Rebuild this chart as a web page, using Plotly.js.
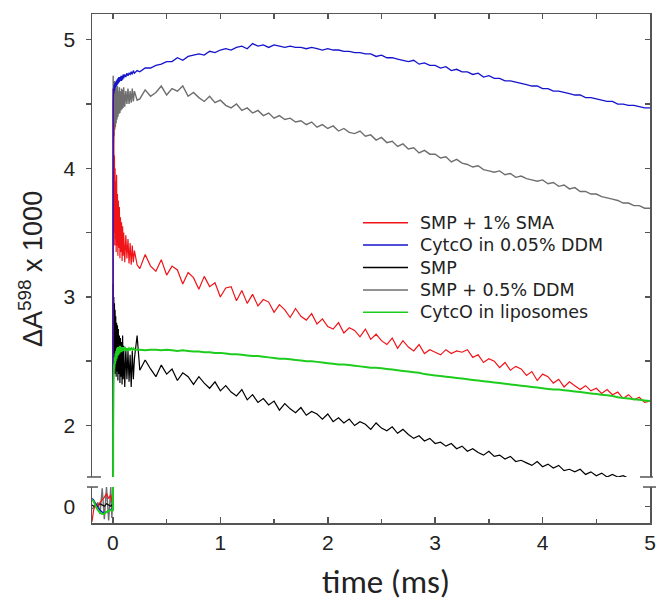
<!DOCTYPE html>
<html><head><meta charset="utf-8">
<script src="https://cdn.plot.ly/plotly-3.0.1.min.js"></script>
<style>html,body{margin:0;padding:0;background:#fff;} #chart{width:658px;height:603px;}</style>
</head><body><div id="chart"></div>
<script>
// time axis (ms)
const time = [
-0.195,-0.18,-0.16,-0.14,-0.12,-0.1,-0.08,-0.06,-0.04,-0.02,-0.01,0,
0.002,0.005,0.008,0.011,0.014,0.017,0.02,0.023,0.026,0.03,
0.034,0.038,0.042,0.046,0.05,0.055,0.06,0.065,0.07,0.075,
0.08,0.085,0.09,0.095,0.1,0.11,0.12,0.13,0.14,0.15,
0.16,0.17,0.18,0.19,0.2,0.225,
0.25,0.3,0.35,0.4,0.45,0.5,0.55,0.6,0.65,0.7,
0.75,0.8,0.85,0.9,0.95,1,1.05,1.1,1.15,1.2,
1.25,1.3,1.35,1.4,1.45,1.5,1.55,1.6,1.65,1.7,
1.75,1.8,1.85,1.9,1.95,2,2.05,2.1,2.15,2.2,
2.25,2.3,2.35,2.4,2.45,2.5,2.55,2.6,2.65,2.7,
2.75,2.8,2.85,2.9,2.95,3,3.05,3.1,3.15,3.2,
3.25,3.3,3.35,3.4,3.45,3.5,3.55,3.6,3.65,3.7,
3.75,3.8,3.85,3.9,3.95,4,4.05,4.1,4.15,4.2,
4.25,4.3,4.35,4.4,4.45,4.5,4.55,4.6,4.65,4.7,
4.75,4.8,4.85,4.9,4.95,5];

// SMP + 1% SMA (red)
const smpSma = [
-0.12,-0.03,0.02,0.0,0.03,0.05,0.07,0.10,0.06,0.09,0.04,0.03,
4.62,3.70,4.35,3.50,4.10,3.40,4.00,3.45,3.90,3.35,
3.95,3.40,3.80,3.32,3.75,3.38,3.70,3.30,3.62,3.35,
3.58,3.28,3.55,3.32,3.50,3.27,3.48,3.30,3.45,3.26,
3.42,3.25,3.40,3.27,3.36,3.25,
3.22,3.33,3.24,3.20,3.29,3.17,3.24,3.21,3.10,3.19,
3.15,3.06,3.16,3.08,3.11,3.00,3.07,3.08,2.97,3.05,
2.95,3.02,2.93,2.98,2.96,2.88,2.94,2.90,2.84,2.91,
2.85,2.82,2.87,2.79,2.83,2.77,2.75,2.80,2.72,2.76,
2.74,2.69,2.75,2.67,2.71,2.66,2.63,2.68,2.60,2.66,
2.61,2.58,2.63,2.56,2.59,2.57,2.55,2.59,2.56,2.58,
2.57,2.59,2.53,2.55,2.49,2.52,2.50,2.45,2.49,2.43,
2.46,2.44,2.39,2.42,2.35,2.40,2.38,2.33,2.36,2.30,
2.34,2.31,2.28,2.31,2.27,2.29,2.25,2.28,2.24,2.26,
2.21,2.24,2.20,2.22,2.18,2.19];

// CytcO in 0.05% DDM (blue)
const cytcoDdm = [
0.06,0.05,0.02,-0.01,-0.03,-0.045,-0.05,-0.045,-0.035,-0.025,-0.02,-0.02,
4.50,4.62,4.58,4.65,4.60,4.66,4.62,4.67,4.63,4.68,
4.64,4.69,4.65,4.70,4.66,4.71,4.67,4.71,4.68,4.72,
4.68,4.72,4.69,4.73,4.70,4.73,4.71,4.74,4.72,4.74,
4.73,4.75,4.73,4.76,4.74,4.76,
4.75,4.78,4.78,4.80,4.81,4.83,4.83,4.86,4.84,4.87,
4.88,4.89,4.88,4.91,4.90,4.92,4.93,4.92,4.94,4.95,
4.93,4.97,4.95,4.96,4.94,4.96,4.95,4.94,4.95,4.94,
4.94,4.93,4.94,4.93,4.92,4.93,4.92,4.92,4.91,4.91,
4.90,4.90,4.89,4.89,4.87,4.88,4.86,4.86,4.85,4.84,
4.83,4.84,4.81,4.82,4.80,4.80,4.78,4.79,4.76,4.77,
4.75,4.75,4.73,4.74,4.71,4.72,4.70,4.70,4.68,4.68,
4.67,4.66,4.65,4.64,4.64,4.62,4.62,4.60,4.60,4.59,
4.58,4.57,4.57,4.55,4.55,4.54,4.53,4.52,4.52,4.50,
4.50,4.49,4.49,4.48,4.47,4.47];

// SMP (black)
const smp = [
0.01,0.0,0.01,0.0,0.02,0.01,0.0,0.02,0.01,0.0,0.01,0.0,
3.10,2.45,3.00,2.50,2.95,2.40,2.90,2.45,2.85,2.38,
2.80,2.42,2.78,2.35,2.75,2.40,2.70,2.33,2.68,2.38,
2.65,2.32,2.70,2.36,2.62,2.30,2.60,2.36,2.58,2.34,
2.55,2.30,2.58,2.36,2.52,2.70,
2.43,2.51,2.44,2.38,2.47,2.40,2.44,2.35,2.41,2.38,
2.32,2.38,2.33,2.29,2.34,2.27,2.31,2.26,2.23,2.28,
2.20,2.24,2.18,2.21,2.16,2.19,2.12,2.17,2.13,2.10,
2.14,2.08,2.11,2.09,2.05,2.09,2.03,2.06,2.02,2.05,
2.00,2.03,2.01,1.97,2.02,1.98,1.96,1.99,1.94,1.97,
1.93,1.90,1.92,1.88,1.90,1.86,1.87,1.84,1.86,1.82,
1.84,1.80,1.82,1.79,1.77,1.80,1.76,1.77,1.74,1.76,
1.72,1.73,1.71,1.69,1.72,1.68,1.70,1.67,1.69,1.65,
1.66,1.64,1.66,1.62,1.64,1.61,1.63,1.60,1.62,1.60,
1.61,1.59,1.58,1.57,1.57,1.56];

// SMP + 0.5% DDM (grey)
const smpDdm = [
-0.02,-0.01,0.0,0.03,-0.06,0.14,-0.1,0.15,-0.11,0.15,-0.09,0.1,
4.72,4.20,4.65,4.25,4.68,4.30,4.62,4.32,4.66,4.35,
4.62,4.38,4.64,4.40,4.60,4.42,4.63,4.43,4.60,4.45,
4.62,4.46,4.61,4.47,4.63,4.48,4.60,4.50,4.62,4.50,
4.60,4.51,4.62,4.52,4.60,4.53,
4.54,4.61,4.56,4.59,4.64,4.57,4.62,4.60,4.64,4.56,
4.59,4.55,4.52,4.56,4.51,4.53,4.49,4.47,4.50,4.45,
4.47,4.43,4.45,4.41,4.43,4.39,4.41,4.38,4.39,4.36,
4.37,4.34,4.36,4.32,4.34,4.31,4.33,4.29,4.31,4.28,
4.27,4.29,4.25,4.26,4.22,4.24,4.20,4.21,4.17,4.19,
4.15,4.16,4.12,4.14,4.11,4.11,4.08,4.09,4.05,4.07,
4.04,4.03,4.01,4.02,3.99,3.98,3.97,3.98,3.95,3.96,
3.93,3.94,3.92,3.91,3.90,3.91,3.88,3.89,3.86,3.87,
3.84,3.85,3.82,3.82,3.80,3.80,3.78,3.77,3.76,3.75,
3.73,3.73,3.71,3.71,3.69,3.69];

// CytcO in liposomes (green)
const cytcoLipo = [
0.05,0.04,0.0,-0.03,-0.05,-0.06,-0.055,-0.045,-0.035,-0.03,-0.03,-0.03,
1.95,2.30,2.42,2.48,2.45,2.53,2.48,2.56,2.50,2.58,
2.52,2.60,2.54,2.61,2.55,2.61,2.56,2.62,2.57,2.61,
2.57,2.61,2.58,2.61,2.58,2.61,2.58,2.60,2.58,2.60,
2.59,2.60,2.59,2.60,2.59,2.59,
2.59,2.585,2.59,2.59,2.585,2.59,2.585,2.58,2.585,2.58,
2.575,2.575,2.57,2.57,2.565,2.565,2.56,2.555,2.555,2.55,
2.545,2.54,2.54,2.535,2.53,2.525,2.52,2.52,2.515,2.51,
2.505,2.50,2.50,2.495,2.49,2.485,2.48,2.475,2.475,2.47,
2.465,2.46,2.455,2.45,2.45,2.445,2.44,2.435,2.43,2.425,
2.42,2.415,2.41,2.40,2.395,2.39,2.385,2.38,2.375,2.37,
2.365,2.36,2.355,2.35,2.345,2.34,2.335,2.33,2.325,2.32,
2.315,2.31,2.305,2.30,2.295,2.29,2.285,2.28,2.28,2.275,
2.27,2.265,2.26,2.255,2.25,2.245,2.24,2.235,2.23,2.22,
2.215,2.21,2.205,2.20,2.195,2.19];

const seriesNames = ['SMP + 1% SMA','CytcO in 0.05% DDM','SMP','SMP + 0.5% DDM','CytcO in liposomes'];
const seriesValues = [smpSma, cytcoDdm, smp, smpDdm, cytcoLipo];
const seriesColors = ['#f01418','#1414cc','#000000','#6e6e6e','#1ecc1e'];
const seriesWidths = [1.2, 1.3, 1.2, 1.4, 2.0];
const drawOrder = [3, 2, 0, 1, 4];

const xTickVals = [0,1,2,3,4,5];
const xMinorVals = [0.5,1.5,2.5,3.5,4.5];
const xTopVals = [0,0.5,1,1.5,2,2.5,3,3.5,4,4.5,5];
const yTickVals = [2,3,4,5];
const yMinorVals = [2.5,3.5,4.5];
const yRightVals = [2,2.5,3,3.5,4,4.5,5];
const yLowVals = [0];

const xRange = [-0.195, 5];
const yRange = [1.6, 5.2];
const yLowRange = [-0.13, 0.15];

// plot area in pixels (for paper-coordinate helpers)
const PL = 92, PR = 650, PT = 14, PB = 523;
const px2x = p => (p - PL) / (PR - PL);
const px2y = p => (PB - p) / (PB - PT);

const traces = [];
drawOrder.forEach(i => {
  const top = (i === 4);   // last series drawn on the right-hand overlay axes
  const base = {type:'scatter', mode:'lines', x:time, y:seriesValues[i], name:seriesNames[i],
    line:{color:seriesColors[i], width:seriesWidths[i], simplify:false}, hoverinfo:'skip', showlegend:false};
  traces.push(Object.assign({}, base, {xaxis:'x2', yaxis: top ? 'y3' : 'y'}));
  traces.push(Object.assign({}, base, {xaxis:'x', yaxis: top ? 'y4' : 'y2'}));
});

const axC = '#555555';
const tickFont = {family:'"Liberation Sans", Arial, sans-serif', size:21, color:'#222'};
const common = {showline:true, linecolor:axC, linewidth:1.5, tickcolor:axC, tickwidth:1.5,
  showgrid:false, zeroline:false, fixedrange:true};

// hand-made legend (rows + line samples)
const legendShapes = [], legendNotes = [];
seriesNames.forEach((nm, i) => {
  const yy = px2y(222.7 + 22.4 * i);
  legendShapes.push({type:'line', xref:'paper', yref:'paper', x0:px2x(363), x1:px2x(408), y0:yy, y1:yy,
    line:{color:seriesColors[i], width:1.5}});
  legendNotes.push({text:nm, xref:'paper', yref:'paper', x:px2x(418), y:yy, xanchor:'left', yanchor:'middle',
    showarrow:false, font:{family:'"DejaVu Sans", sans-serif', size:17.5, color:'#222'}});
});

const breakShapes = [
  {type:'line', xref:'paper', yref:'paper', x0:px2x(87), x1:px2x(101), y0:0.0904, y1:0.0904, line:{color:axC, width:1.5}},
  {type:'line', xref:'paper', yref:'paper', x0:px2x(87), x1:px2x(98), y0:0.0707, y1:0.0707, line:{color:axC, width:1.5}},
  {type:'line', xref:'paper', yref:'paper', x0:px2x(640), x1:px2x(653), y0:0.0904, y1:0.0904, line:{color:axC, width:1.5}},
  {type:'line', xref:'paper', yref:'paper', x0:px2x(643), x1:px2x(656), y0:0.0707, y1:0.0707, line:{color:axC, width:1.5}}
];

const layout = {
  width:658, height:603,
  margin:{l:92, r:8, t:14, b:80},
  paper_bgcolor:'#ffffff', plot_bgcolor:'rgba(0,0,0,0)',
  showlegend:false,
  xaxis:Object.assign({}, common, {domain:[0,1], range:xRange, anchor:'y2', side:'bottom',
    ticks:'inside', ticklen:6, tickmode:'array', tickvals:xTickVals, tickfont:tickFont,
    minor:{tickmode:'array', tickvals:xMinorVals, ticks:'inside', ticklen:4, tickwidth:1.5, tickcolor:axC}}),
  xaxis2:Object.assign({}, common, {domain:[0,1], range:xRange, anchor:'y', side:'top',
    ticks:'inside', ticklen:5, tickmode:'array', tickvals:xTopVals, showticklabels:false}),
  yaxis:Object.assign({}, common, {domain:[0.0904,1], range:yRange, anchor:'x2', side:'left',
    ticks:'outside', ticklen:5, tickmode:'array', tickvals:yTickVals, tickfont:tickFont, ticklabelstandoff:6,
    minor:{tickmode:'array', tickvals:yMinorVals, ticks:'outside', ticklen:5, tickwidth:1.5, tickcolor:axC}}),
  yaxis2:Object.assign({}, common, {domain:[0,0.0707], range:yLowRange, anchor:'x', side:'left',
    ticks:'', tickmode:'array', tickvals:yLowVals, tickfont:tickFont, ticklabelstandoff:11}),
  yaxis3:Object.assign({}, common, {overlaying:'y', range:yRange, anchor:'x2', side:'right',
    ticks:'inside', ticklen:5, tickmode:'array', tickvals:yRightVals, showticklabels:false}),
  yaxis4:Object.assign({}, common, {overlaying:'y2', range:yLowRange, anchor:'x', side:'right',
    ticks:'inside', ticklen:5, tickmode:'array', tickvals:yLowVals, showticklabels:false}),
  shapes: breakShapes.concat(legendShapes),
  annotations:[
    {text:'ΔA<sup>598</sup> x 1000', xref:'paper', yref:'paper', x:px2x(31), y:px2y(269), textangle:-90,
     showarrow:false, xanchor:'center', yanchor:'middle',
     font:{family:'"Liberation Sans", Arial, sans-serif', size:27, color:'#222'}},
    {text:'time (ms)', xref:'paper', yref:'paper', x:px2x(386), y:px2y(582),
     showarrow:false, xanchor:'center', yanchor:'middle',
     font:{family:'Carlito, Lato, "Open Sans", sans-serif', size:33, color:'#222'}}
  ].concat(legendNotes)
};

Plotly.newPlot('chart', traces, layout, {displayModeBar:false, staticPlot:true});
</script>
</body></html>
